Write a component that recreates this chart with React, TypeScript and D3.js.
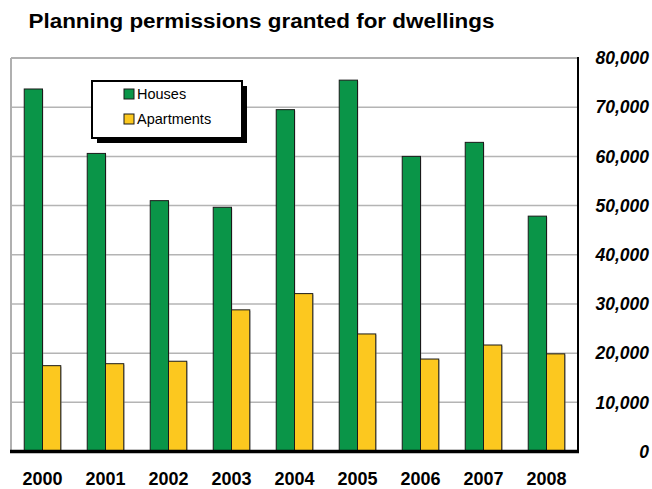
import React from "react";
import * as d3 from "d3";

const years = ["2000", "2001", "2002", "2003", "2004", "2005", "2006", "2007", "2008"];
const houses = [73700, 60600, 51000, 49650, 69500, 75500, 60000, 62850, 47850];
const apartments = [17450, 17850, 18350, 28800, 32100, 23900, 18800, 21650, 19850];
const seriesNames = ["Houses", "Apartments"];
const seriesColors = ["#0a9548", "#fcc81f"];
const yTicks = [0, 10000, 20000, 30000, 40000, 50000, 60000, 70000, 80000];
const title = "Planning permissions granted for dwellings";

const W = 652, H = 489;
const left = 11, right = 578, top = 58, bottom = 451.5;

export default function App() {
  const x = d3.scaleBand<string>().domain(years).range([left, right]).paddingInner(0.42).paddingOuter(0.21);
  const x1 = d3.scaleBand<string>().domain(seriesNames).range([0, x.bandwidth()]).padding(0);
  const y = d3.scaleLinear().domain([0, 80000]).range([bottom, top]);
  const fmt = d3.format(",");
  const data = [houses, apartments];
  const font = "Liberation Sans, Arial, Helvetica, sans-serif";

  return (
    <svg width={W} height={H} style={{ position: "absolute", left: 0, top: 0 }} fontFamily={font}>
      <rect width={W} height={H} fill="#fff" />
      <text x={28.5} y={28.3} fontSize={19.5} fontWeight="bold" fill="#000" textLength={466} lengthAdjust="spacingAndGlyphs">{title}</text>
      {/* gridlines */}
      {yTicks.filter(t => t > 0 && t < 80000).map(t => (
        <line key={t} x1={left} x2={right} y1={y(t)} y2={y(t)} stroke="#b4b4b4" strokeWidth={1.5} />
      ))}
      <line x1={left} x2={right} y1={y(80000)} y2={y(80000)} stroke="#b0b0b0" strokeWidth={2} />
      <line x1={left} x2={left} y1={y(80000)} y2={bottom} stroke="#b0b0b0" strokeWidth={2} />
      {/* bars */}
      {data.map((vals, si) => vals.map((v, i) => {
        const bx = (x(years[i]) as number) + (x1(seriesNames[si]) as number);
        const by = y(v);
        return (
          <g key={`${si}-${i}`}>
            <rect x={bx + 1} y={by + 1} width={x1.bandwidth()} height={bottom - by} fill="#9a9a9a" opacity={0.5} />
            <rect x={bx} y={by} width={x1.bandwidth()} height={bottom - by} fill={seriesColors[si]} stroke="#1a1a1a" strokeWidth={1} />
          </g>
        );
      }))}
      {/* axes */}
      <line x1={right} x2={right} y1={top - 1} y2={bottom} stroke="#000" strokeWidth={2} />
      <line x1={left - 1} x2={right + 1} y1={bottom} y2={bottom} stroke="#000" strokeWidth={3.5} />
      {yTicks.map(t => (
        <text key={t} x={649} y={y(t)} dy="0.36em" textAnchor="end" fontSize={17.5} fontWeight="bold" fontStyle="italic" fill="#000">{fmt(t)}</text>
      ))}
      {years.map(yr => (
        <text key={yr} x={(x(yr) as number) + x.bandwidth() / 2} y={485} textAnchor="middle" fontSize={18} fontWeight="bold" fill="#000">{yr}</text>
      ))}
      {/* legend */}
      <rect x={97} y={86} width={150} height={57} fill="#000" />
      <rect x={92} y={81} width={150} height={57} fill="#fff" stroke="#000" strokeWidth={2} />
      {seriesNames.map((s, i) => (
        <g key={s}>
          <rect x={124} y={89 + i * 25} width={10} height={10} fill={seriesColors[i]} stroke="#1a1a1a" strokeWidth={1} />
          <text x={137} y={94 + i * 25} dy="0.36em" fontSize={14.5} fill="#000">{s}</text>
        </g>
      ))}
    </svg>
  );
}
